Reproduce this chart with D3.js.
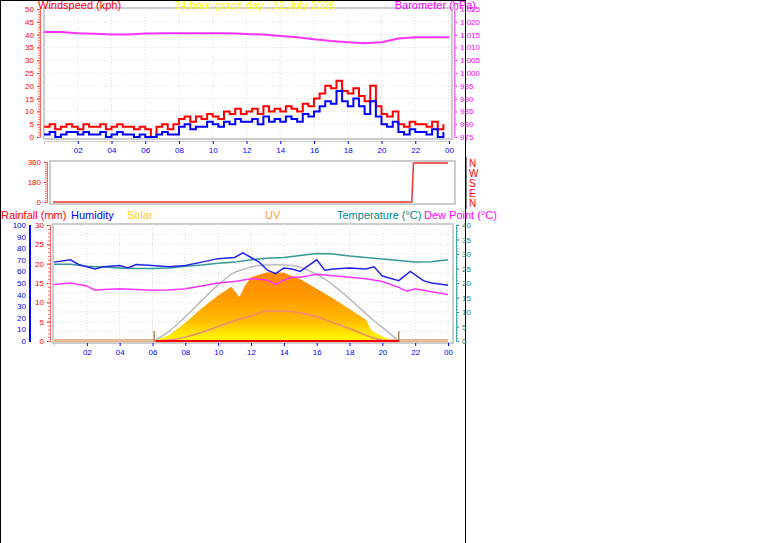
<!DOCTYPE html>
<html><head><meta charset="utf-8">
<script src="https://cdn.jsdelivr.net/npm/d3@7"></script>
<style>
body{margin:0;background:#fff;font-family:"Liberation Sans",Arial,sans-serif}
text{font-family:"Liberation Sans",Arial,sans-serif}
</style></head>
<body>
<script>
// wind, 20 minute steps (kph)
var windGust = [4,5,3,4,5,4,3,5,4,4,5,3,4,5,4,4,3,4,3,0,4,5,3,5,
  7,8,6,8,7,9,8,7,10,9,11,9, 10,11,9,12,10,11,10,12,11,10,13,12,
  15,17,20,19,22,18,17,19,16,14,20,12, 9,8,10,5,4,6,5,5,4,6,3,5];
var windSpeed = [1,2,0,1,2,2,1,2,1,1,2,0,1,2,1,1,0,1,0,0,1,2,1,1,
  4,5,3,4,4,6,5,4,6,5,7,6, 6,7,5,8,6,7,6,8,7,6,9,8,
  10,12,14,13,18,14,12,15,12,9,14,8, 5,4,6,2,1,3,2,2,1,3,0,2];
var baroHours = [0,1,2,3,4,5,6,7,8,9,10,11,12,13,14,15,16,17,18,19,20,21,22,23,24];
var baro = [1016,1016,1015.5,1015.3,1015,1015,1015.4,1015.5,1015.5,1015.5,1015.5,1015.5,1015.2,1015,1014.5,1014,1013.2,1012.5,1012,1011.6,1012,1013.5,1014,1014,1014];
var dirHours = [0,21.8,21.9,24];
var windDir = [0,0,350,350];
var tempHours = [0,1,2,3,4,5,6,7,8,9,10,11,12,13,14,15,16,17,18,19,20,21,22,23,24];
var temp = [26.5,26.5,25.8,25.5,25.2,25,25,25.2,25.8,26.2,26.8,27.2,28,28.5,28.8,29.5,30.2,30,29.3,28.8,28.3,27.8,27.2,27.3,28];
var humHours = [0,1,1.5,2.5,3,4,4.5,5,6,7,8,9,10,11,11.5,12,12.5,13,13.5,14,14.5,15,16,16.5,17,18,19,19.5,20,21,21.7,22.5,23,24];
var humidity = [68,70,66,62,64,65,63,66,65,64,65,68,71,72,76,72,68,61,58,63,62,60,70,61,62,63,62,64,56,52,60,52,50,48];
var dewHours = [0,1,2,2.5,3,4,5,6,7,8,9,10,11,12,13,13.5,14,14.5,15,16,17,18,19,20,21,21.5,22,23,24];
var dewPoint = [19.5,20,19,17.5,17.8,18,17.8,17.5,17.6,18,19,20,20.5,21.5,21,19.5,21,22,22,23,22.5,22,21.5,20.5,18.5,17.2,18,17,16];
var solarHours = [6.1,7,8,9,10,10.8,11.3,11.6,12,13,14,15,16,17,18,19,19.3,19.5,20,20.5,21];
var solar = [0,60,190,340,470,560,455,560,660,710,705,640,540,440,330,220,120,90,50,10,0];
var maxSolar = [0,100,250,420,580,710,740,780,790,780,730,640,510,360,210,100,0];
var maxHours = [6.1,7,8,9,10,11,11.5,12.5,13.5,14.5,15.5,16.5,17.5,18.5,19.5,20.3,21];
var uvHours = [6.1,7,8,9,10,11,12,13,14,15,16,17,18,19,20,21];
var uv = [0,0.1,0.4,0.9,1.5,2.1,2.6,3.1,3.1,2.9,2.5,1.9,1.3,0.6,0.1,0];
var rainHours = [6.2,21];
var rain = [0,0];
var hourTicks = [2,4,6,8,10,12,14,16,18,20,22,24];

var svg = d3.select("body").append("svg").attr("width",761).attr("height",543);
// frame
svg.append("line").attr("x1",0.5).attr("x2",0.5).attr("y1",0).attr("y2",543).attr("stroke","#000");
svg.append("line").attr("x1",465.5).attr("x2",465.5).attr("y1",0).attr("y2",543).attr("stroke","#000");
svg.append("line").attr("x1",0).attr("x2",466).attr("y1",0.5).attr("y2",0.5).attr("stroke","#000");

function fmtH(d){ return d3.format("02")(d % 24); }
function panel(x0,x1,y0,y1){
  svg.append("rect").attr("x",x0).attr("y",y0).attr("width",x1-x0).attr("height",y1-y0)
    .attr("fill","#fff").attr("stroke","#ccc").attr("stroke-width",2);
}
function grid(x,y,yTicks,x0,x1,y0,y1){
  var g = svg.append("g").attr("stroke","#ddd").attr("stroke-dasharray","1,2");
  hourTicks.forEach(function(h){ g.append("line").attr("x1",x(h)).attr("x2",x(h)).attr("y1",y0).attr("y2",y1); });
  yTicks.forEach(function(v){ g.append("line").attr("x1",x0).attr("x2",x1).attr("y1",y(v)).attr("y2",y(v)); });
}
function styleAxis(g,col,size){
  g.selectAll("path").attr("stroke",col);
  g.selectAll("line").attr("stroke",col);
  g.selectAll("text").attr("fill",col).style("font-size",size+"px");
}

// ---- top panel: wind + barometer
var xT = d3.scaleLinear().domain([0,24]).range([44,449]);
var yW = d3.scaleLinear().domain([0,50]).range([137,9]);
var yB = d3.scaleLinear().domain([975,1025]).range([137,9]);
panel(44,452,8,139);
grid(xT,yW,d3.range(5,55,5),44,452,8,139);
var a1 = svg.append("g").attr("transform","translate(40,0)").call(d3.axisLeft(yW).tickValues(d3.range(0,55,5)).tickSize(3));
styleAxis(a1,"#f00",8); a1.select("path").remove();
svg.append("g").attr("transform","translate(40,0)").call(d3.axisLeft(yW).ticks(50).tickSize(2).tickFormat(""))
  .call(function(g){g.selectAll("line").attr("stroke","#f66");g.select("path").attr("stroke","#f66");});
var a2 = svg.append("g").attr("transform","translate(454,0)").call(d3.axisRight(yB).tickValues(d3.range(975,1030,5)).tickSize(3));
styleAxis(a2,"#f0f",8);
svg.append("g").attr("transform","translate(454,0)").call(d3.axisRight(yB).ticks(50).tickSize(2).tickFormat(""))
  .call(function(g){g.selectAll("line,path").attr("stroke","#f6f");});
var ax1 = svg.append("g").attr("transform","translate(0,141)").call(d3.axisBottom(xT).tickValues(hourTicks).tickFormat(fmtH).tickSize(3));
styleAxis(ax1,"#00f",8); ax1.select("path").attr("stroke","#ccc");
var wStep = 1/3;
var lw = d3.line().curve(d3.curveStepAfter).x(function(d,i){return xT(i*wStep);});
svg.append("path").datum(windGust).attr("d",lw.y(function(d){return yW(d);})).attr("fill","none").attr("stroke","#f00").attr("stroke-width",2);
svg.append("path").datum(windSpeed).attr("d",lw.y(function(d){return yW(d);})).attr("fill","none").attr("stroke","#00f").attr("stroke-width",2);
svg.append("path").datum(baro).attr("d",d3.line().x(function(d,i){return xT(baroHours[i]);}).y(function(d){return yB(d);}))
  .attr("fill","none").attr("stroke","#f3f").attr("stroke-width",2);
svg.append("text").attr("x",38).attr("y",9).attr("fill","#f00").style("font-size","11px").text("Windspeed (kph)");
svg.append("text").attr("x",255).attr("y",9).attr("text-anchor","middle").attr("fill","#ff0").style("font-size","11px").text("24 hour graph day : 12 July 2026");
svg.append("text").attr("x",476).attr("y",9).attr("text-anchor","end").attr("fill","#f0f").style("font-size","11px").text("Barometer (hPa)");

// ---- middle panel: direction
var xM = d3.scaleLinear().domain([0,24]).range([53,448]);
var yD = d3.scaleLinear().domain([0,360]).range([202,162]);
panel(50,455,161,204);
var a3 = svg.append("g").attr("transform","translate(47,0)").call(d3.axisLeft(yD).tickValues([0,180,360]).tickSize(3));
styleAxis(a3,"#f00",8);
svg.append("g").attr("transform","translate(47,0)").call(d3.axisLeft(yD).ticks(24).tickSize(2).tickFormat(""))
  .call(function(g){g.selectAll("line,path").attr("stroke","#f66");});
svg.append("path").datum(windDir).attr("d",d3.line().x(function(d,i){return xM(dirHours[i]);}).y(function(d){return yD(d);}))
  .attr("fill","none").attr("stroke","#e33").attr("stroke-width",1.5);
svg.append("line").attr("x1",466).attr("x2",466).attr("y1",157).attr("y2",209).attr("stroke","#000");
["N","W","S","E","N"].forEach(function(t,i){
  svg.append("text").attr("x",469).attr("y",167+i*10).attr("fill","#f00").style("font-size","10px").text(t);
});

// ---- bottom panel
var xB = d3.scaleLinear().domain([0,24]).range([54,448]);
var yR = d3.scaleLinear().domain([0,30]).range([341,225]);
var yH = d3.scaleLinear().domain([0,100]).range([341,225]);
var yTm = d3.scaleLinear().domain([0,40]).range([341,225]);
var ySol = d3.scaleLinear().domain([0,1200]).range([341,225]);
var yUV = d3.scaleLinear().domain([0,12]).range([341,225]);
panel(53,453,224,343);
grid(xB,yR,d3.range(2.5,32.5,2.5),53,453,224,343);
var lab = [["Rainfall (mm)",1,"#f00"],["Humidity",71,"#00f"],["Solar",127,"#fc0"],["UV",265,"#f93"],["Temperature (°C)",337,"#088"],["Dew Point (°C)",424,"#f0f"]];
lab.forEach(function(l){ svg.append("text").attr("x",l[1]).attr("y",219).attr("fill",l[2]).style("font-size","11px").text(l[0]); });
var a4 = svg.append("g").attr("transform","translate(29,0)").call(d3.axisLeft(yH).tickValues(d3.range(0,110,10)).tickSize(0));
styleAxis(a4,"#00f",8);
svg.append("rect").attr("x",29).attr("y",225).attr("width",2).attr("height",117).attr("fill","#00f");
var a5 = svg.append("g").attr("transform","translate(50,0)").call(d3.axisLeft(yR).tickValues(d3.range(0,35,5)).tickSize(3));
styleAxis(a5,"#f00",8);
svg.append("g").attr("transform","translate(50,0)").call(d3.axisLeft(yR).ticks(30).tickSize(2).tickFormat(""))
  .call(function(g){g.selectAll("line,path").attr("stroke","#f66");});
var a6 = svg.append("g").attr("transform","translate(456,0)").call(d3.axisRight(yTm).tickValues(d3.range(0,45,5)).tickSize(3));
styleAxis(a6,"#088",8);
svg.append("g").attr("transform","translate(456,0)").call(d3.axisRight(yTm).ticks(40).tickSize(2).tickFormat(""))
  .call(function(g){g.selectAll("line,path").attr("stroke","#4aa");});
var ax2 = svg.append("g").attr("transform","translate(0,343)").call(d3.axisBottom(xB).tickValues(hourTicks).tickFormat(fmtH).tickSize(3));
styleAxis(ax2,"#00f",8); ax2.select("path").attr("stroke","#ccc");

var grad = svg.append("defs").append("linearGradient").attr("id","sg").attr("x1",0).attr("y1",1).attr("x2",0).attr("y2",0);
grad.append("stop").attr("offset","0%").attr("stop-color","#ff0");
grad.append("stop").attr("offset","30%").attr("stop-color","#fb0");
grad.append("stop").attr("offset","65%").attr("stop-color","#f90");
grad.append("stop").attr("offset","100%").attr("stop-color","#f80");
svg.append("rect").attr("x",54).attr("y",339).attr("width",394).attr("height",3).attr("fill","#e8b890");
svg.append("path").datum(solar).attr("d",d3.area().x(function(d,i){return xB(solarHours[i]);}).y0(ySol(0)).y1(function(d){return ySol(d);}))
  .attr("fill","url(#sg)");
svg.append("path").datum(maxSolar).attr("d",d3.line().curve(d3.curveMonotoneX).x(function(d,i){return xB(maxHours[i]);}).y(function(d){return ySol(d);}))
  .attr("fill","none").attr("stroke","#bbb").attr("stroke-width",1.5);
svg.append("path").datum(uv).attr("d",d3.line().curve(d3.curveMonotoneX).x(function(d,i){return xB(uvHours[i]);}).y(function(d){return yUV(d);}))
  .attr("fill","none").attr("stroke","#e87").attr("stroke-width",1.5);
[6.1,21].forEach(function(h){
  svg.append("line").attr("x1",xB(h)).attr("x2",xB(h)).attr("y1",331).attr("y2",342).attr("stroke","#a86").attr("stroke-width",1.5);
});
svg.append("path").datum(rain).attr("d",d3.line().x(function(d,i){return xB(rainHours[i]);}).y(function(d){return yR(d);}))
  .attr("fill","none").attr("stroke","#f00").attr("stroke-width",2);
svg.append("path").datum(temp).attr("d",d3.line().x(function(d,i){return xB(tempHours[i]);}).y(function(d){return yTm(d);}))
  .attr("fill","none").attr("stroke","#399").attr("stroke-width",1.5);
svg.append("path").datum(dewPoint).attr("d",d3.line().x(function(d,i){return xB(dewHours[i]);}).y(function(d){return yTm(d);}))
  .attr("fill","none").attr("stroke","#f3f").attr("stroke-width",1.5);
svg.append("path").datum(humidity).attr("d",d3.line().x(function(d,i){return xB(humHours[i]);}).y(function(d){return yH(d);}))
  .attr("fill","none").attr("stroke","#22e").attr("stroke-width",1.5);
</script>
</body></html>
